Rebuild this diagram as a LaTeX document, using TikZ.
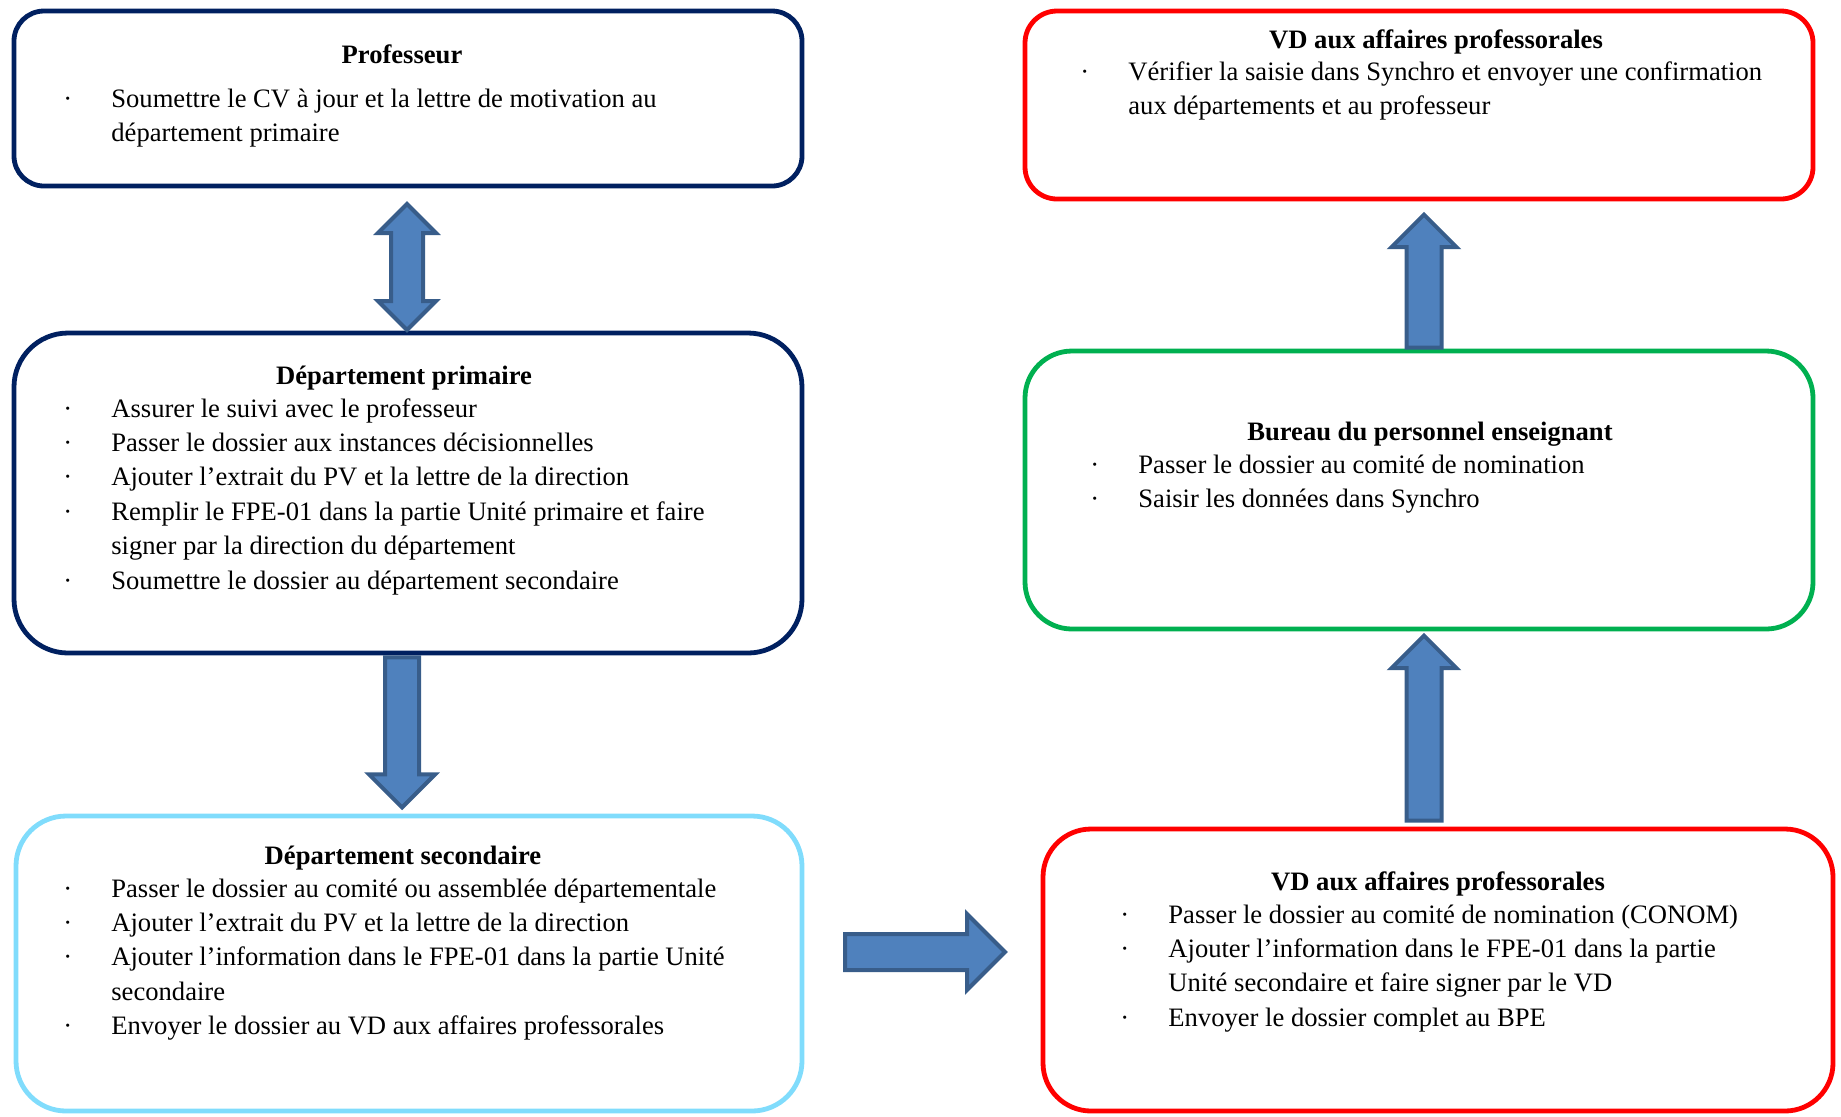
\documentclass[tikz,border=0pt]{standalone}
\usepackage{fontspec}
\setmainfont{Liberation Serif}
\usepackage{tikz}
\usetikzlibrary{shapes.arrows,calc}
\definecolor{bleunuit}{HTML}{002060}
\definecolor{bleuciel}{HTML}{80DCFC}
\definecolor{rouge}{HTML}{FF0000}
\definecolor{vert}{HTML}{00B050}
\definecolor{flechefond}{HTML}{4F81BD}
\definecolor{flechebord}{HTML}{385D8A}
\newcommand{\puce}{\textperiodcentered}
\newcommand{\points}[1]{\begin{tabular}[t]{@{}p{24pt}@{}l@{}}#1\end{tabular}}
\tikzstyle{cadre} = [draw, line width=2.4pt, inner sep=0pt]
\tikzstyle{titre} = [font=\fontsize{13.3}{17.2}\selectfont\bfseries, inner sep=0pt, anchor=base]
\tikzstyle{liste} = [font=\fontsize{13.3}{17.2}\selectfont, inner sep=0pt, anchor=base west]
\tikzstyle{fleche} = [single arrow, draw=flechebord, fill=flechefond, line width=2pt, inner xsep=0pt, minimum width=0pt]
\tikzstyle{flechedouble} = [double arrow, draw=flechebord, fill=flechefond, line width=2pt, inner xsep=0pt, minimum width=0pt]

\begin{document}
\begin{tikzpicture}[x=0.5pt,y=-0.5pt]
	\useasboundingbox (0,0) rectangle (1841,1116);
	% cadres
	\node[cadre, draw=bleunuit, minimum width=394pt, minimum height=87.5pt, rounded corners=15pt] (prof) at (408,98.5) {};
	\node[cadre, draw=bleunuit, minimum width=394pt, minimum height=160pt, rounded corners=27pt] (prim) at (408,493) {};
	\node[cadre, draw=bleuciel, minimum width=393pt, minimum height=147.5pt, rounded corners=25pt] (sec) at (409,963.5) {};
	\node[cadre, draw=rouge, minimum width=394pt, minimum height=94pt, rounded corners=16pt] (vdhaut) at (1419,105) {};
	\node[cadre, draw=vert, minimum width=394pt, minimum height=139pt, rounded corners=23.5pt] (bpe) at (1419,490) {};
	\node[cadre, draw=rouge, minimum width=395pt, minimum height=141pt, rounded corners=24pt] (vdbas) at (1438,970) {};
	
	% textes
	\node[titre] (tprof) at (402,63) {Professeur};
	\node[liste] (lprof) at (63,107) {\points{\puce & Soumettre le CV à jour et la lettre de motivation au\\
		& département primaire}};
	
	\node[titre] (tprim) at (404,384) {Département primaire};
	\node[liste] (lprim) at (63,417) {\points{\puce & Assurer le suivi avec le professeur\\
		\puce & Passer le dossier aux instances décisionnelles\\
		\puce & Ajouter l’extrait du PV et la lettre de la direction\\
		\puce & Remplir le FPE-01 dans la partie Unité primaire et faire\\
		& signer par la direction du département\\
		\puce & Soumettre le dossier au département secondaire}};
	
	\node[titre] (tsec) at (403,864) {Département secondaire};
	\node[liste] (lsec) at (63,897) {\points{\puce & Passer le dossier au comité ou assemblée départementale\\
		\puce & Ajouter l’extrait du PV et la lettre de la direction\\
		\puce & Ajouter l’information dans le FPE-01 dans la partie Unité\\
		& secondaire\\
		\puce & Envoyer le dossier au VD aux affaires professorales}};
	
	\node[titre] (tvdhaut) at (1436,48) {VD aux affaires professorales};
	\node[liste] (lvdhaut) at (1080,80) {\points{\puce & Vérifier la saisie dans Synchro et envoyer une confirmation\\
		& aux départements et au professeur}};
	
	\node[titre] (tbpe) at (1430,440) {Bureau du personnel enseignant};
	\node[liste] (lbpe) at (1090,473) {\points{\puce & Passer le dossier au comité de nomination\\
		\puce & Saisir les données dans Synchro}};
	
	\node[titre] (tvdbas) at (1438,890) {VD aux affaires professorales};
	\node[liste] (lvdbas) at (1120,923) {\points{\puce & Passer le dossier au comité de nomination (CONOM)\\
		\puce & Ajouter l’information dans le FPE-01 dans la partie\\
		& Unité secondaire et faire signer par le VD\\
		\puce & Envoyer le dossier complet au BPE}};
	
	% fleches
	\node[flechedouble, rotate=90, minimum height=63pt, inner ysep=7pt, double arrow head extend=6.5pt] (f1) at (407,267) {};
	\node[fleche, rotate=-90, anchor=tail, minimum height=75pt, inner ysep=7.5pt, single arrow head extend=8pt] (f2) at ($(prim.south)+(-6,0)$) {};
	\node[fleche, anchor=tail, minimum height=80pt, inner ysep=8pt, single arrow head extend=10pt] (f3) at (843,952) {};
	\node[fleche, rotate=90, anchor=tail, minimum height=92.5pt, inner ysep=7.75pt, single arrow head extend=7.5pt] (f4) at ($(vdbas.north)+(-14,-4)$) {};
	\node[fleche, rotate=90, anchor=tail, minimum height=66.5pt, inner ysep=7.75pt, single arrow head extend=7.5pt] (f5) at ($(bpe.north)+(5,1)$) {};
\end{tikzpicture}
\end{document}
